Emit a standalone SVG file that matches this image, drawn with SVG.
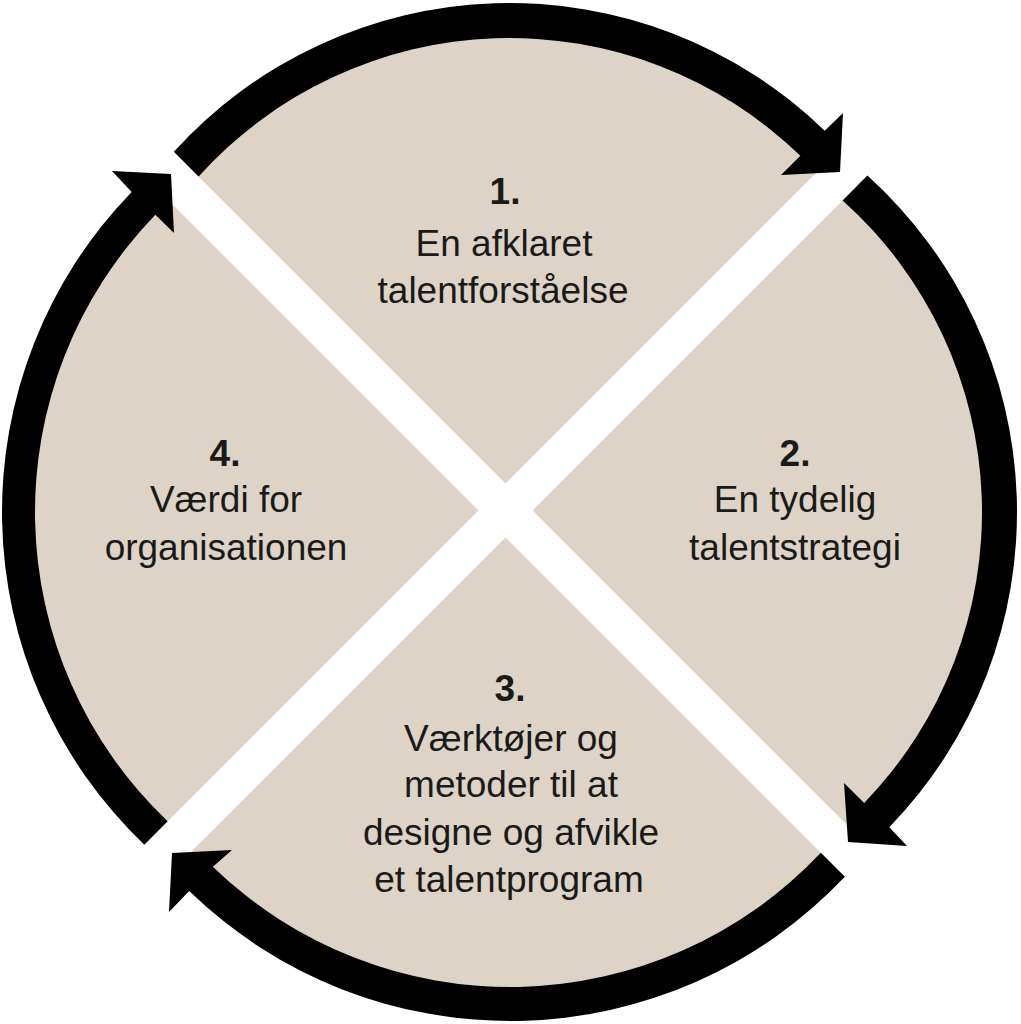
<svg xmlns="http://www.w3.org/2000/svg" width="1021" height="1024" viewBox="0 0 1021 1024">
  <style>
    .wedge { fill: #DDD4C7; stroke: none; }
    .arrow { fill: #000000; stroke: none; }
    .num { font-family: "Liberation Sans", Arial, sans-serif; font-weight: 700; font-size: 37px; fill: #1a1a1a; text-anchor: middle; }
    .lbl { font-family: "Liberation Sans", Arial, sans-serif; font-size: 37px; fill: #1a1a1a; text-anchor: middle; }
  </style>
  <rect width="1021" height="1024" fill="#ffffff"/>

  <g id="node1">
    <path class="wedge" d="M 505.5 483.5 L 184.68 162.68 A 477 477 0 0 1 830.15 158.85 Z"/>
    <text class="num" x="505" y="204">1.</text>
    <text class="lbl" x="504" y="256">En afklaret</text>
    <text class="lbl" x="503" y="303">talentforståelse</text>
  </g>

  <g id="node2">
    <path class="wedge" d="M 532.5 510.5 L 857.37 185.63 A 477 477 0 0 1 858.8 836.8 Z"/>
    <text class="num" x="795" y="466">2.</text>
    <text class="lbl" x="795" y="512">En tydelig</text>
    <text class="lbl" x="795" y="560">talentstrategi</text>
  </g>

  <g id="node3">
    <path class="wedge" d="M 505.5 537.5 L 831.72 863.72 A 477 477 0 0 1 183.13 859.87 Z"/>
    <text class="num" x="510" y="701">3.</text>
    <text class="lbl" x="511" y="751">Værktøjer og</text>
    <text class="lbl" x="511" y="797">metoder til at</text>
    <text class="lbl" x="511" y="845">designe og afvikle</text>
    <text class="lbl" x="509" y="892">et talentprogram</text>
  </g>

  <g id="node4">
    <path class="wedge" d="M 478.5 510.5 L 156.35 832.65 A 477 477 0 0 1 157.78 189.78 Z"/>
    <text class="num" x="225" y="466">4.</text>
    <text class="lbl" x="226" y="512">Værdi for</text>
    <text class="lbl" x="226" y="560">organisationen</text>
  </g>

  <g id="connectors">
    <path id="arrow-1-2" class="arrow" d="M 173.82 151.82 A 453 453 0 0 1 824.75 130.69 L 843 113 L 840 172 L 781 175 L 800.39 155.82 A 418 418 0 0 0 198.6 176.6 Z"/>
    <path id="arrow-2-3" class="arrow" d="M 867.4 175.6 A 453 453 0 0 1 889.31 827.25 L 907 846 L 848 842 L 844 783 L 864.18 802.89 A 418 418 0 0 0 842.61 200.39 Z"/>
    <path id="arrow-3-4" class="arrow" d="M 844.85 876.85 A 461 461 0 0 1 189.19 891.06 L 169 912 L 172 853 L 232 850 L 212.85 866.64 A 427 427 0 0 0 820.8 852.8 Z"/>
    <path id="arrow-4-1" class="arrow" d="M 144.32 844.68 A 460 460 0 0 1 131.66 191.88 L 112 171 L 171 174 L 174 233 L 155.36 214.85 A 427 427 0 0 0 167.66 821.34 Z"/>
  </g>
</svg>
